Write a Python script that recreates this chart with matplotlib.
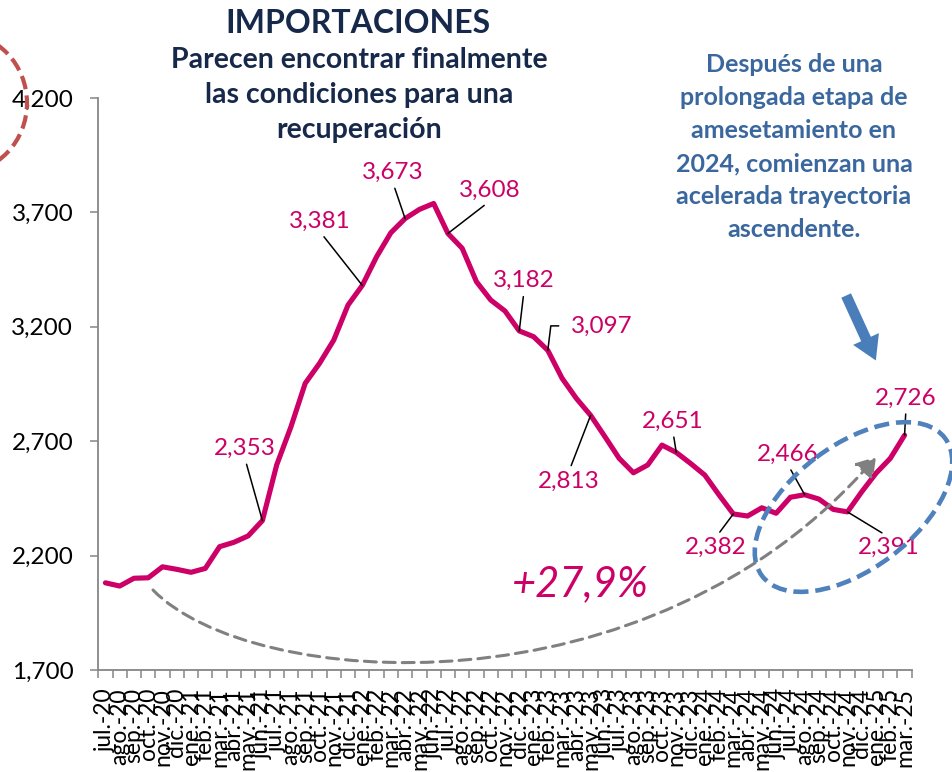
import matplotlib
matplotlib.use("Agg")
import matplotlib.pyplot as plt
from matplotlib.patches import Ellipse, FancyArrowPatch
from matplotlib.path import Path
from matplotlib.ticker import StrMethodFormatter, FixedLocator

plt.rcParams['font.family'] = ['Lato', 'DejaVu Sans']

# datos
meses = ["ene.", "feb.", "mar.", "abr.", "may.", "jun.",
         "jul.", "ago.", "sep.", "oct.", "nov.", "dic."]
periodos = [(m, a) for a in range(20, 26) for m in meses]
periodos = periodos[6:6 + 57]  # jul.-20 .. mar.-25
etiquetas = ["%s-%d" % (m, a) for m, a in periodos]

importaciones = [
    2081, 2067, 2101, 2103, 2151, 2140,
    2127, 2144, 2239, 2258, 2286, 2353, 2596, 2763, 2953, 3040, 3142, 3295,
    3381, 3506, 3611, 3673, 3713, 3739, 3608, 3543, 3397, 3317, 3269, 3182,
    3157, 3097, 2975, 2887, 2813, 2720, 2625, 2562, 2596, 2683, 2651, 2603,
    2552, 2465, 2382, 2373, 2409, 2385, 2455, 2466, 2447, 2402, 2391, 2479,
    2560, 2625, 2726,
]

# puntos rotulados
rotulos_idx = [11, 18, 21, 24, 29, 31, 34, 40, 44, 49, 52, 56]
# posicion del texto (x en indice, y en valor) y punto de anclaje de la linea
rotulos_pos = [(9.78, 2669), (15.04, 3661), (20.15, 3875), (26.95, 3796),
               (29.33, 3402), (34.8, 3204), (32.49, 2524), (39.77, 2788),
               (42.79, 2235), (47.83, 2643), (54.9, 2235), (56.1, 2889)]
rotulos_rel = [(0.5, 0), (0.5, 0), (0.5, 0), (0.5, 0), (0.5, 0), (0, 0.5),
               (0.5, 1), (0.5, 0), (0.5, 1), (0.5, 0), (0.5, 1), (0.5, 0)]

MAGENTA = "#CC0066"
NAVY = "#17294A"
AZUL_TXT = "#3A679E"
AZUL = "#4F81BD"
GRIS = "#868686"

W, H = 953, 772
fig = plt.figure(figsize=(W / 100, H / 100), dpi=100)
ax = fig.add_axes([98.3 / W, 1 - 670 / H, (911.7 - 98.3) / W, (670 - 98) / H])

x = list(range(len(importaciones)))
ax.plot(x, importaciones, color=MAGENTA, lw=3.7, solid_capstyle="round",
        solid_joinstyle="round", zorder=3)

ax.set_xlim(-0.5, len(importaciones) - 0.5)
ax.set_ylim(1700, 4200)
ax.set_yticks([1700, 2200, 2700, 3200, 3700, 4200])
ax.yaxis.set_major_formatter(StrMethodFormatter("{x:,.0f}"))
ax.set_xticks(x)
ax.set_xticklabels(etiquetas, rotation=90, fontsize=16.5)
ax.xaxis.set_minor_locator(FixedLocator([i - 0.5 for i in range(len(x) + 1)]))
ax.tick_params(axis="x", which="major", length=0, pad=13)
ax.tick_params(axis="x", which="minor", length=6, width=1.1, color=GRIS)
ax.tick_params(axis="y", length=6, width=1.1, color=GRIS, labelsize=17.5, pad=12)
for s in ["top", "right"]:
    ax.spines[s].set_visible(False)
for s in ["left", "bottom"]:
    ax.spines[s].set_color(GRIS)
    ax.spines[s].set_linewidth(1.3)

for i, (tx, ty), rel in zip(rotulos_idx, rotulos_pos, rotulos_rel):
    if rel == (0, 0.5):
        cs = "angle,angleA=0,angleB=83,rad=0"
        shA = 7
    else:
        cs = "arc3"
        shA = 2
    ax.annotate("{:,}".format(importaciones[i]), xy=(i, importaciones[i]),
                xytext=(tx, ty), textcoords="data", ha="center", va="center",
                fontsize=17.5, color=MAGENTA, zorder=4,
                arrowprops=dict(arrowstyle="-", color="black", lw=1.1,
                                shrinkA=shA, shrinkB=0, relpos=rel,
                                connectionstyle=cs))

# capa de anotaciones en pixeles
ov = fig.add_axes([0, 0, 1, 1])
ov.set_xlim(0, W)
ov.set_ylim(H, 0)
ov.axis("off")

ov.text(358, 33, "IMPORTACIONES", ha="center", va="baseline", fontsize=23,
        fontweight="bold", color=NAVY)
subt = ["Parecen encontrar finalmente", "las condiciones para una", "recuperación"]
for k, linea in enumerate(subt):
    ov.text(359, 68 + 35 * k, linea, ha="center", va="baseline", fontsize=20.5,
            fontweight="bold", color=NAVY)

nota = ["Después de una", "prolongada etapa de", "amesetamiento en",
        "2024, comienzan una", "acelerada trayectoria", "ascendente."]
for k, linea in enumerate(nota):
    ov.text(794, 72 + 33 * k, linea, ha="center", va="baseline", fontsize=18,
            fontweight="bold", color=AZUL_TXT)

ov.text(580, 584, "+27,9%", ha="center", va="center", fontsize=30,
        style="italic", color=MAGENTA)

# elipses
ov.add_patch(Ellipse((853.5, 507), 229, 124, angle=-37, fill=False, ec=AZUL,
                     lw=3.3, linestyle=(0, (3.3, 1.5))))
ov.add_patch(Ellipse((-40, 103), 134, 140, fill=False, ec="#C0504D",
                     lw=3.0, linestyle=(0, (3.3, 1.5))))

# flecha azul
ov.add_patch(FancyArrowPatch((845, 293), (877, 363),
                             arrowstyle="simple,head_length=1.0,head_width=1.2,tail_width=0.45",
                             mutation_scale=17, color="#4A7EBB", lw=0))

# curva gris
curva = Path([(153, 590), (250, 690), (650, 720), (876, 457)],
             [Path.MOVETO, Path.CURVE4, Path.CURVE4, Path.CURVE4])
ov.add_patch(FancyArrowPatch(path=curva, arrowstyle="-|>,head_length=0.7,head_width=0.45",
                             mutation_scale=16, color="#808080", lw=2.2,
                             linestyle=(0, (3.9, 2.3))))

fig.savefig("out.png", dpi=100)
